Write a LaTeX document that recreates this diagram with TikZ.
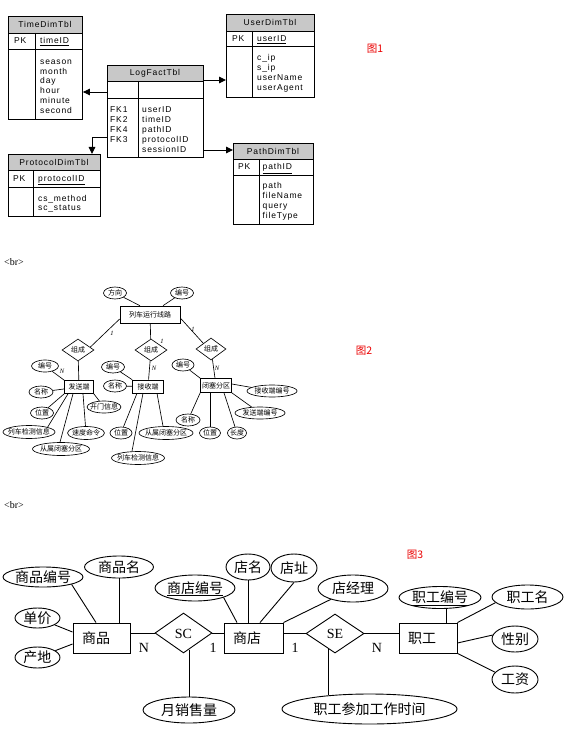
\documentclass[tikz,border=0pt]{standalone}
\usepackage{fontspec}
\setmainfont{Liberation Serif}
\newfontfamily\tblfont[LetterSpace=10]{Liberation Sans}
\newfontfamily\cjk{Noto Sans CJK SC}
\usetikzlibrary{shapes.geometric,arrows.meta,calc}
\definecolor{hdr}{RGB}{200,200,200}
\definecolor{redlbl}{RGB}{235,0,0}
\newcommand\ctext[1]{\raisebox{-0.36em}[0pt][0pt]{\makebox[0pt]{#1}}}
\begin{document}
\begin{tikzpicture}[x=1pt,y=-1pt,
  tline/.style={line width=0.9pt},
  tbl/.style={draw,line width=0.9pt,inner sep=0pt,anchor=north west},
  ttxt/.style={font=\tblfont\fontsize{8.5}{9.8}\selectfont,inner sep=0pt,anchor=base west},
  thd/.style={font=\tblfont\fontsize{8.5}{9.8}\selectfont,inner sep=0pt},
  arr/.style={line width=0.9pt,-{Triangle[length=7pt,width=6.5pt]}},
  e2/.style={draw,line width=0.65pt,inner sep=0pt,font=\cjk\fontsize{7}{9}\selectfont},
  e2box/.style={e2,rectangle},
  e2ell/.style={e2,ellipse},
  e2dia/.style={e2,diamond},
  e2ln/.style={line width=0.65pt},
  lbl2/.style={inner sep=0pt,font=\itshape\fontsize{6.5}{7}\selectfont},
  e3/.style={draw,line width=0.9pt,inner sep=0pt,font=\cjk\fontsize{14}{16}\selectfont},
  e3box/.style={e3,rectangle,minimum height=30pt,inner xsep=9pt,align=left},
  e3ell/.style={e3,ellipse},
  e3dia/.style={e3,diamond,font=\fontsize{14}{16}\selectfont},
  e3ln/.style={line width=0.9pt},
  lbl3/.style={inner sep=0pt,font=\fontsize{14}{16}\selectfont},
  fig/.style={inner sep=0pt,text=redlbl,font=\cjk\fontsize{10.5}{12}\selectfont},
  brtxt/.style={inner sep=0pt,anchor=west,font=\fontsize{10}{11}\selectfont}
]
\fill[white] (0,0) rectangle (572,730);
\useasboundingbox (0,0) rectangle (572,730);

% ================= Figure 1 =================
% TimeDimTbl
\fill[hdr] (8,16) rectangle (82,33);
\node[tbl,minimum width=74pt,minimum height=103pt] (time) at (8,16) {};
\draw[tline] (8,33) -- (82,33) (8,49) -- (82,49) (35,33) -- (35,119);
\node[thd] (timeH) at (45,24.5) {TimeDimTbl};
\node[ttxt] (timePK) at (14,44) {PK};
\node[ttxt] (timeK) at (40,44) {\underline{timeID}};
\foreach \t [count=\i] in {season,month,day,hour,minute,second}
  \node[ttxt] (timeA\i) at (40,54.5+9.8*\i) {\t};

% UserDimTbl
\fill[hdr] (226,14) rectangle (314,31);
\node[tbl,minimum width=88pt,minimum height=83pt] (user) at (226,14) {};
\draw[tline] (226,31) -- (314,31) (226,46) -- (314,46) (252,31) -- (252,97);
\node[thd] (userH) at (270,22.5) {UserDimTbl};
\node[ttxt] (userPK) at (232,41.5) {PK};
\node[ttxt] (userK) at (257,41.5) {\underline{userID}};
\foreach \t [count=\i] in {c\_ip,s\_ip,userName,userAgent}
  \node[ttxt] (userA\i) at (257,51.2+9.8*\i) {\t};

% LogFactTbl
\fill[hdr] (107,65) rectangle (203,81);
\node[tbl,minimum width=96pt,minimum height=92.5pt] (log) at (107,65) {};
\draw[tline] (107,81) -- (203,81) (107,98.5) -- (203,98.5) (138,81) -- (138,157.5);
\node[thd] (logH) at (155,73) {LogFactTbl};
\foreach \t [count=\i] in {FK1,FK2,FK4,FK3}
  \node[ttxt] (logF\i) at (110,103.2+9.8*\i) {\t};
\foreach \t [count=\i] in {userID,timeID,pathID,protocolID,sessionID}
  \node[ttxt] (logA\i) at (142,103.2+9.8*\i) {\t};

% PathDimTbl
\fill[hdr] (233,143) rectangle (313,159);
\node[tbl,minimum width=80pt,minimum height=81pt] (path) at (233,143) {};
\draw[tline] (233,159) -- (313,159) (233,175) -- (313,175) (259,159) -- (259,224);
\node[thd] (pathH) at (273,151) {PathDimTbl};
\node[ttxt] (pathPK) at (238,170) {PK};
\node[ttxt] (pathK) at (262.5,170) {\underline{pathID}};
\foreach \t [count=\i] in {path,fileName,query,fileType}
  \node[ttxt] (pathA\i) at (262.5,179.2+9.8*\i) {\t};

% ProtocolDimTbl
\fill[hdr] (8,154) rectangle (100,170);
\node[tbl,minimum width=92pt,minimum height=62pt] (prot) at (8,154) {};
\draw[tline] (8,170) -- (100,170) (8,187) -- (100,187) (33,170) -- (33,216);
\node[thd] (protH) at (54,162) {ProtocolDimTbl};
\node[ttxt] (protPK) at (13,181.5) {PK};
\node[ttxt] (protK) at (38,181.5) {\underline{protocolID}};
\foreach \t [count=\i] in {cs\_method,sc\_status}
  \node[ttxt] (protA\i) at (38,191.2+9.8*\i) {\t};

% connectors
\draw[arr] (log.west |- 0,92) -- (time.east |- 0,92);
\draw[arr] (log.east |- 0,80) -- (user.west |- 0,80);
\draw[arr] (log.east |- 0,150) -- (path.west |- 0,150);
\draw[arr] (log.west |- 0,137) -| (prot.north -| 92,0);

\node[fig] (fig1) at (375,49) {图1};
\node[brtxt] (br1) at (4,262) {<br>};

% ================= Figure 2 =================
\node[e2box,minimum width=60pt,minimum height=17pt] (route) at (150,314.5) {\ctext{列车运行线路}};
\node[e2ell,minimum width=23pt,minimum height=12pt] (fx) at (115,293) {\ctext{方向}};
\node[e2ell,minimum width=23pt,minimum height=12pt] (bh0) at (182,293) {\ctext{编号}};
\node[e2dia,minimum width=32pt,minimum height=22pt] (d1) at (78,350) {\ctext{组成}};
\node[e2dia,minimum width=32pt,minimum height=22pt] (d2) at (151,350) {\ctext{组成}};
\node[e2dia,minimum width=30pt,minimum height=22pt] (d3) at (211,349) {\ctext{组成}};
\node[e2box,minimum width=29pt,minimum height=13pt] (send) at (79,387) {\ctext{发送端}};
\node[e2box,minimum width=31pt,minimum height=13pt] (recv) at (148,386.5) {\ctext{接收端}};
\node[e2box,minimum width=31pt,minimum height=14pt] (blk) at (216,385.5) {\ctext{闭塞分区}};

\node[e2ell,minimum width=27pt,minimum height=12pt] (sbh) at (45,366) {\ctext{编号}};
\node[e2ell,minimum width=24pt,minimum height=12pt] (smc) at (41,392) {\ctext{名称}};
\node[e2ell,minimum width=34pt,minimum height=12pt] (skm) at (104,407) {\ctext{开门信息}};
\node[e2ell,minimum width=23pt,minimum height=12pt] (swz) at (42,413) {\ctext{位置}};
\node[e2ell,minimum width=52pt,minimum height=13pt] (sjc) at (29,432) {\ctext{列车检测信息}};
\node[e2ell,minimum width=37pt,minimum height=13pt] (ssd) at (86,433) {\ctext{速度命令}};
\node[e2ell,minimum width=57pt,minimum height=13pt] (scs) at (61,449) {\ctext{从属闭塞分区}};

\node[e2ell,minimum width=23pt,minimum height=12pt] (rbh) at (113,367) {\ctext{编号}};
\node[e2ell,minimum width=23pt,minimum height=12pt] (rmc) at (115,386) {\ctext{名称}};
\node[e2ell,minimum width=22pt,minimum height=12pt] (rwz) at (121,433) {\ctext{位置}};
\node[e2ell,minimum width=53pt,minimum height=13pt] (rjc) at (138,458) {\ctext{列车检测信息}};
\node[e2ell,minimum width=54pt,minimum height=13pt] (rcs) at (166,433) {\ctext{从属闭塞分区}};

\node[e2ell,minimum width=22pt,minimum height=12pt] (bbh) at (183,365) {\ctext{编号}};
\node[e2ell,minimum width=24pt,minimum height=12pt] (bmc) at (188,420) {\ctext{名称}};
\node[e2ell,minimum width=21pt,minimum height=12pt] (bwz) at (210,433) {\ctext{位置}};
\node[e2ell,minimum width=19pt,minimum height=12pt] (bcd) at (237,433) {\ctext{长度}};
\node[e2ell,minimum width=50pt,minimum height=12pt] (bjs) at (272,391) {\ctext{接收端编号}};
\node[e2ell,minimum width=50pt,minimum height=12pt] (bfs) at (260,413) {\ctext{发送端编号}};

\draw[e2ln] (fx) -- (route.north -| 140,0);
\draw[e2ln] (bh0) -- (route.north -| 163,0);
\draw[e2ln] (route.west |- 0,319) -- ($(d1.north east)!0.5!(d1.east)$);
\draw[e2ln] (route) -- (d2);
\draw[e2ln] (route.east |- 0,318) -- (d3.north west);
\draw[e2ln] (d1) -- (send);
\draw[e2ln] (d2) -- (recv);
\draw[e2ln] (d3) -- (blk);

\draw[e2ln] (sbh) -- (send.north west);
\draw[e2ln] (smc) -- (send);
\draw[e2ln] (send.south east) -- (skm);
\draw[e2ln] (send.south west) -- (swz);
\draw[e2ln] (send.south -| 68,0) -- (sjc.north east);
\draw[e2ln] (send.south -| 83,0) -- (ssd);
\draw[e2ln] (send.south -| 73,0) -- (scs.north -| 60,0);

\draw[e2ln] (rbh) -- (recv.north west);
\draw[e2ln] (rmc) -- (recv);
\draw[e2ln] (recv.south -| 137,0) -- (rwz);
\draw[e2ln] (recv.south -| 143,0) -- (rjc.north -| 132,0);
\draw[e2ln] (recv.south -| 157,0) -- (rcs.north -| 163,0);

\draw[e2ln] (bbh) -- (blk.north west);
\draw[e2ln] (blk.south west) -- (bmc);
\draw[e2ln] (blk.south -| 210,0) -- (bwz);
\draw[e2ln] (blk.south -| 224,0) -- (bcd);
\draw[e2ln] (blk.east |- 0,384) -- (bjs);
\draw[e2ln] (blk.south east) -- (bfs);

\node[lbl2] (l1a) at (112,333) {1};
\node[lbl2] (l1b) at (162,341) {1};
\node[lbl2] (l1c) at (193,329) {1};
\node[lbl2] (lNa) at (62,371) {N};
\node[lbl2] (lNb) at (154,368) {N};
\node[lbl2] (lNc) at (217,368) {N};

\node[fig] (fig2) at (364,351) {图2};
\node[brtxt] (br2) at (4,505) {<br>};

% ================= Figure 3 =================
\node[e3box,text width=39pt] (sp) at (101.5,638) {商品};
\node[e3box,text width=41pt] (sd) at (253.5,638) {商店};
\node[e3box,text width=40pt] (zg) at (428,638) {职工};
\node[e3dia,minimum width=57pt,minimum height=40pt] (sc) at (183.5,633) {\ctext{SC}};
\node[e3dia,minimum width=58pt,minimum height=39pt] (se) at (335,633.5) {\ctext{SE}};

\node[e3ell,minimum width=80pt,minimum height=20pt] (spbh) at (43,577) {\ctext{商品编号}};
\node[e3ell,minimum width=69pt,minimum height=22pt] (spm) at (119,567) {\ctext{商品名}};
\node[e3ell,minimum width=45pt,minimum height=20pt] (dj) at (37.5,618) {\ctext{单价}};
\node[e3ell,minimum width=45pt,minimum height=21pt] (cd) at (37.5,657.5) {\ctext{产地}};
\node[e3ell,minimum width=92pt,minimum height=26pt] (yx) at (189,710) {\ctext{月销售量}};
\node[e3ell,minimum width=80pt,minimum height=26pt] (sdbh) at (195,588) {\ctext{\underline{商店编号}}};
\node[e3ell,minimum width=44pt,minimum height=26pt] (dm) at (248,567) {\ctext{店名}};
\node[e3ell,minimum width=46pt,minimum height=28pt] (dz) at (294,568) {\ctext{店址}};
\node[e3ell,minimum width=70pt,minimum height=27pt] (djl) at (353,588.5) {\ctext{店经理}};
\node[e3ell,minimum width=175pt,minimum height=30pt] (cjsj) at (369.5,709) {\ctext{职工参加工作时间}};
\node[e3ell,minimum width=82pt,minimum height=22pt] (zgbh) at (440,597.5) {\ctext{\underline{职工编号}}};
\node[e3ell,minimum width=71pt,minimum height=24pt] (zgm) at (527.5,597) {\ctext{职工名}};
\node[e3ell,minimum width=46pt,minimum height=26pt] (xb) at (515,639) {\ctext{性别}};
\node[e3ell,minimum width=46pt,minimum height=27pt] (gz) at (515,679.5) {\ctext{工资}};

\draw[e3ln] (sc.west -| sp.east) -- (sc.west);
\draw[e3ln] (sc.east) -- (sc.east -| sd.west);
\draw[e3ln] (se.west -| sd.east) -- (se.west);
\draw[e3ln] (se.east) -- (se.east -| zg.west);
\coordinate (scb) at ($(sc.south)!0.19!(sc.east)$);
\draw[e3ln] (scb) -- (scb |- yx.north);
\coordinate (seb) at ($(se.south)!0.207!(se.west)$);
\draw[e3ln] (seb) -- ($(seb |- cjsj.north)+(0,1.7)$);

\draw[e3ln] (spbh.south east) -- (sp.north -| 96,0);
\draw[e3ln] (spm.south) -- (spm.south |- sp.north);
\draw[e3ln] (dj) -- (sp.west |- 0,632);
\draw[e3ln] (cd) -- (sp.west |- 0,644);
\draw[e3ln] (sdbh.south east) -- (sd.north -| 237,0);
\draw[e3ln] (dm.south) -- (dm.south |- sd.north);
\draw[e3ln] (dz.south) -- (sd.north -| 260,0);
\draw[e3ln] (djl) -- (sd.north east);
\draw[e3ln] (zgbh.south -| 446,0) -- (zg.north -| 446,0);
\draw[e3ln] (zg.north east) -- (zgm.190);
\draw[e3ln] (zg.east |- 0,643) -- (xb.170);
\draw[e3ln] (zg.south east) -- (gz.160);

\node[lbl3] (n3a) at (144,648) {N};
\node[lbl3] (n3b) at (213,648) {1};
\node[lbl3] (n3c) at (295,648) {1};
\node[lbl3] (n3d) at (377,648) {N};

\node[fig] (fig3) at (415,555) {图3};
\end{tikzpicture}
\end{document}
